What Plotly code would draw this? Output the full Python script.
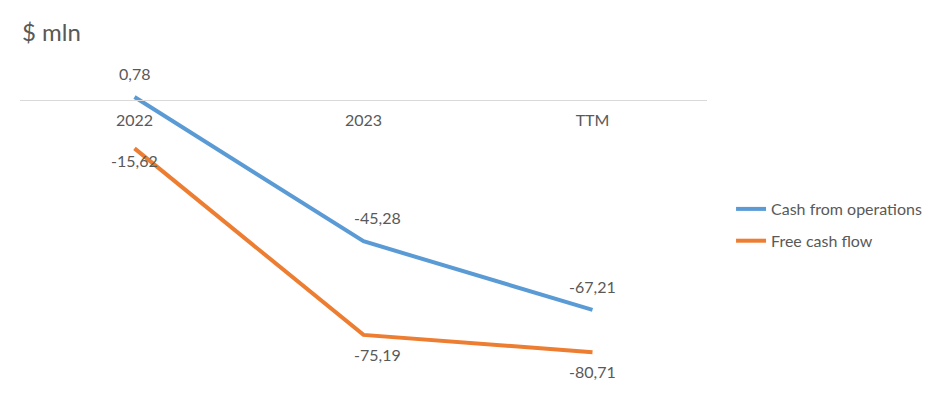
import plotly.graph_objects as go

categories = ["2022", "2023", "TTM"]
cash_from_operations = [0.78, -45.28, -67.21]
free_cash_flow = [-15.62, -75.19, -80.71]
series_names = ["Cash from operations", "Free cash flow"]
colors = ["#5B9BD5", "#ED7D31"]

# label offsets (px) relative to each point
label_dx = [0, 14, 0]
blue_dy = [24, 24, 23]
orange_dy = [-12, -20, -19]

FONT = "Lato"
TXT = "#595959"

def fmt(v):
    return f"{v:.2f}".replace(".", ",")

fig = go.Figure()
for name, vals, col, grp in [
    (series_names[0], cash_from_operations, colors[0], "a"),
    (series_names[1], free_cash_flow, colors[1], "b"),
]:
    fig.add_trace(go.Scatter(
        x=categories, y=vals, name=name, mode="lines",
        line=dict(color=col, width=4), legendgroup=grp, hoverinfo="skip",
    ))

annotations = []
for i, v in enumerate(cash_from_operations):
    annotations.append(dict(x=i, y=v, text=fmt(v), showarrow=False,
                            xshift=label_dx[i], yshift=blue_dy[i],
                            font=dict(family=FONT, size=16, color=TXT)))
for i, v in enumerate(free_cash_flow):
    annotations.append(dict(x=i, y=v, text=fmt(v), showarrow=False,
                            xshift=label_dx[i], yshift=orange_dy[i],
                            font=dict(family=FONT, size=16, color=TXT)))
annotations.append(dict(xref="paper", yref="paper", x=0, y=1, xanchor="left", yanchor="bottom",
                        xshift=0, yshift=12, text="$ mln", showarrow=False,
                        font=dict(family=FONT, size=24, color=TXT)))

top, bottom = 60, 390
ymin, ymax = -92.8, 12.62
zero_pos = (0 - ymin) / (ymax - ymin)

fig.update_layout(
    width=941, height=401,
    margin=dict(l=20, r=234, t=top, b=401 - bottom),
    paper_bgcolor="white", plot_bgcolor="white",
    font=dict(family=FONT, size=16, color=TXT),
    showlegend=True,
    legend=dict(x=1.035, y=0.6, xanchor="left", yanchor="top",
                font=dict(family=FONT, size=16, color=TXT),
                tracegroupgap=8, bgcolor="rgba(0,0,0,0)"),
    xaxis=dict(type="category", range=[-0.5, 2.5], anchor="free", position=zero_pos,
               showline=True, linecolor="#D9D9D9", linewidth=1, ticks="",
               showgrid=False, zeroline=False, ticklabelstandoff=6,
               tickfont=dict(family=FONT, size=16, color=TXT)),
    yaxis=dict(range=[ymin, ymax], visible=False, showgrid=False, zeroline=False),
    annotations=annotations,
)

fig.write_html("out.html")
